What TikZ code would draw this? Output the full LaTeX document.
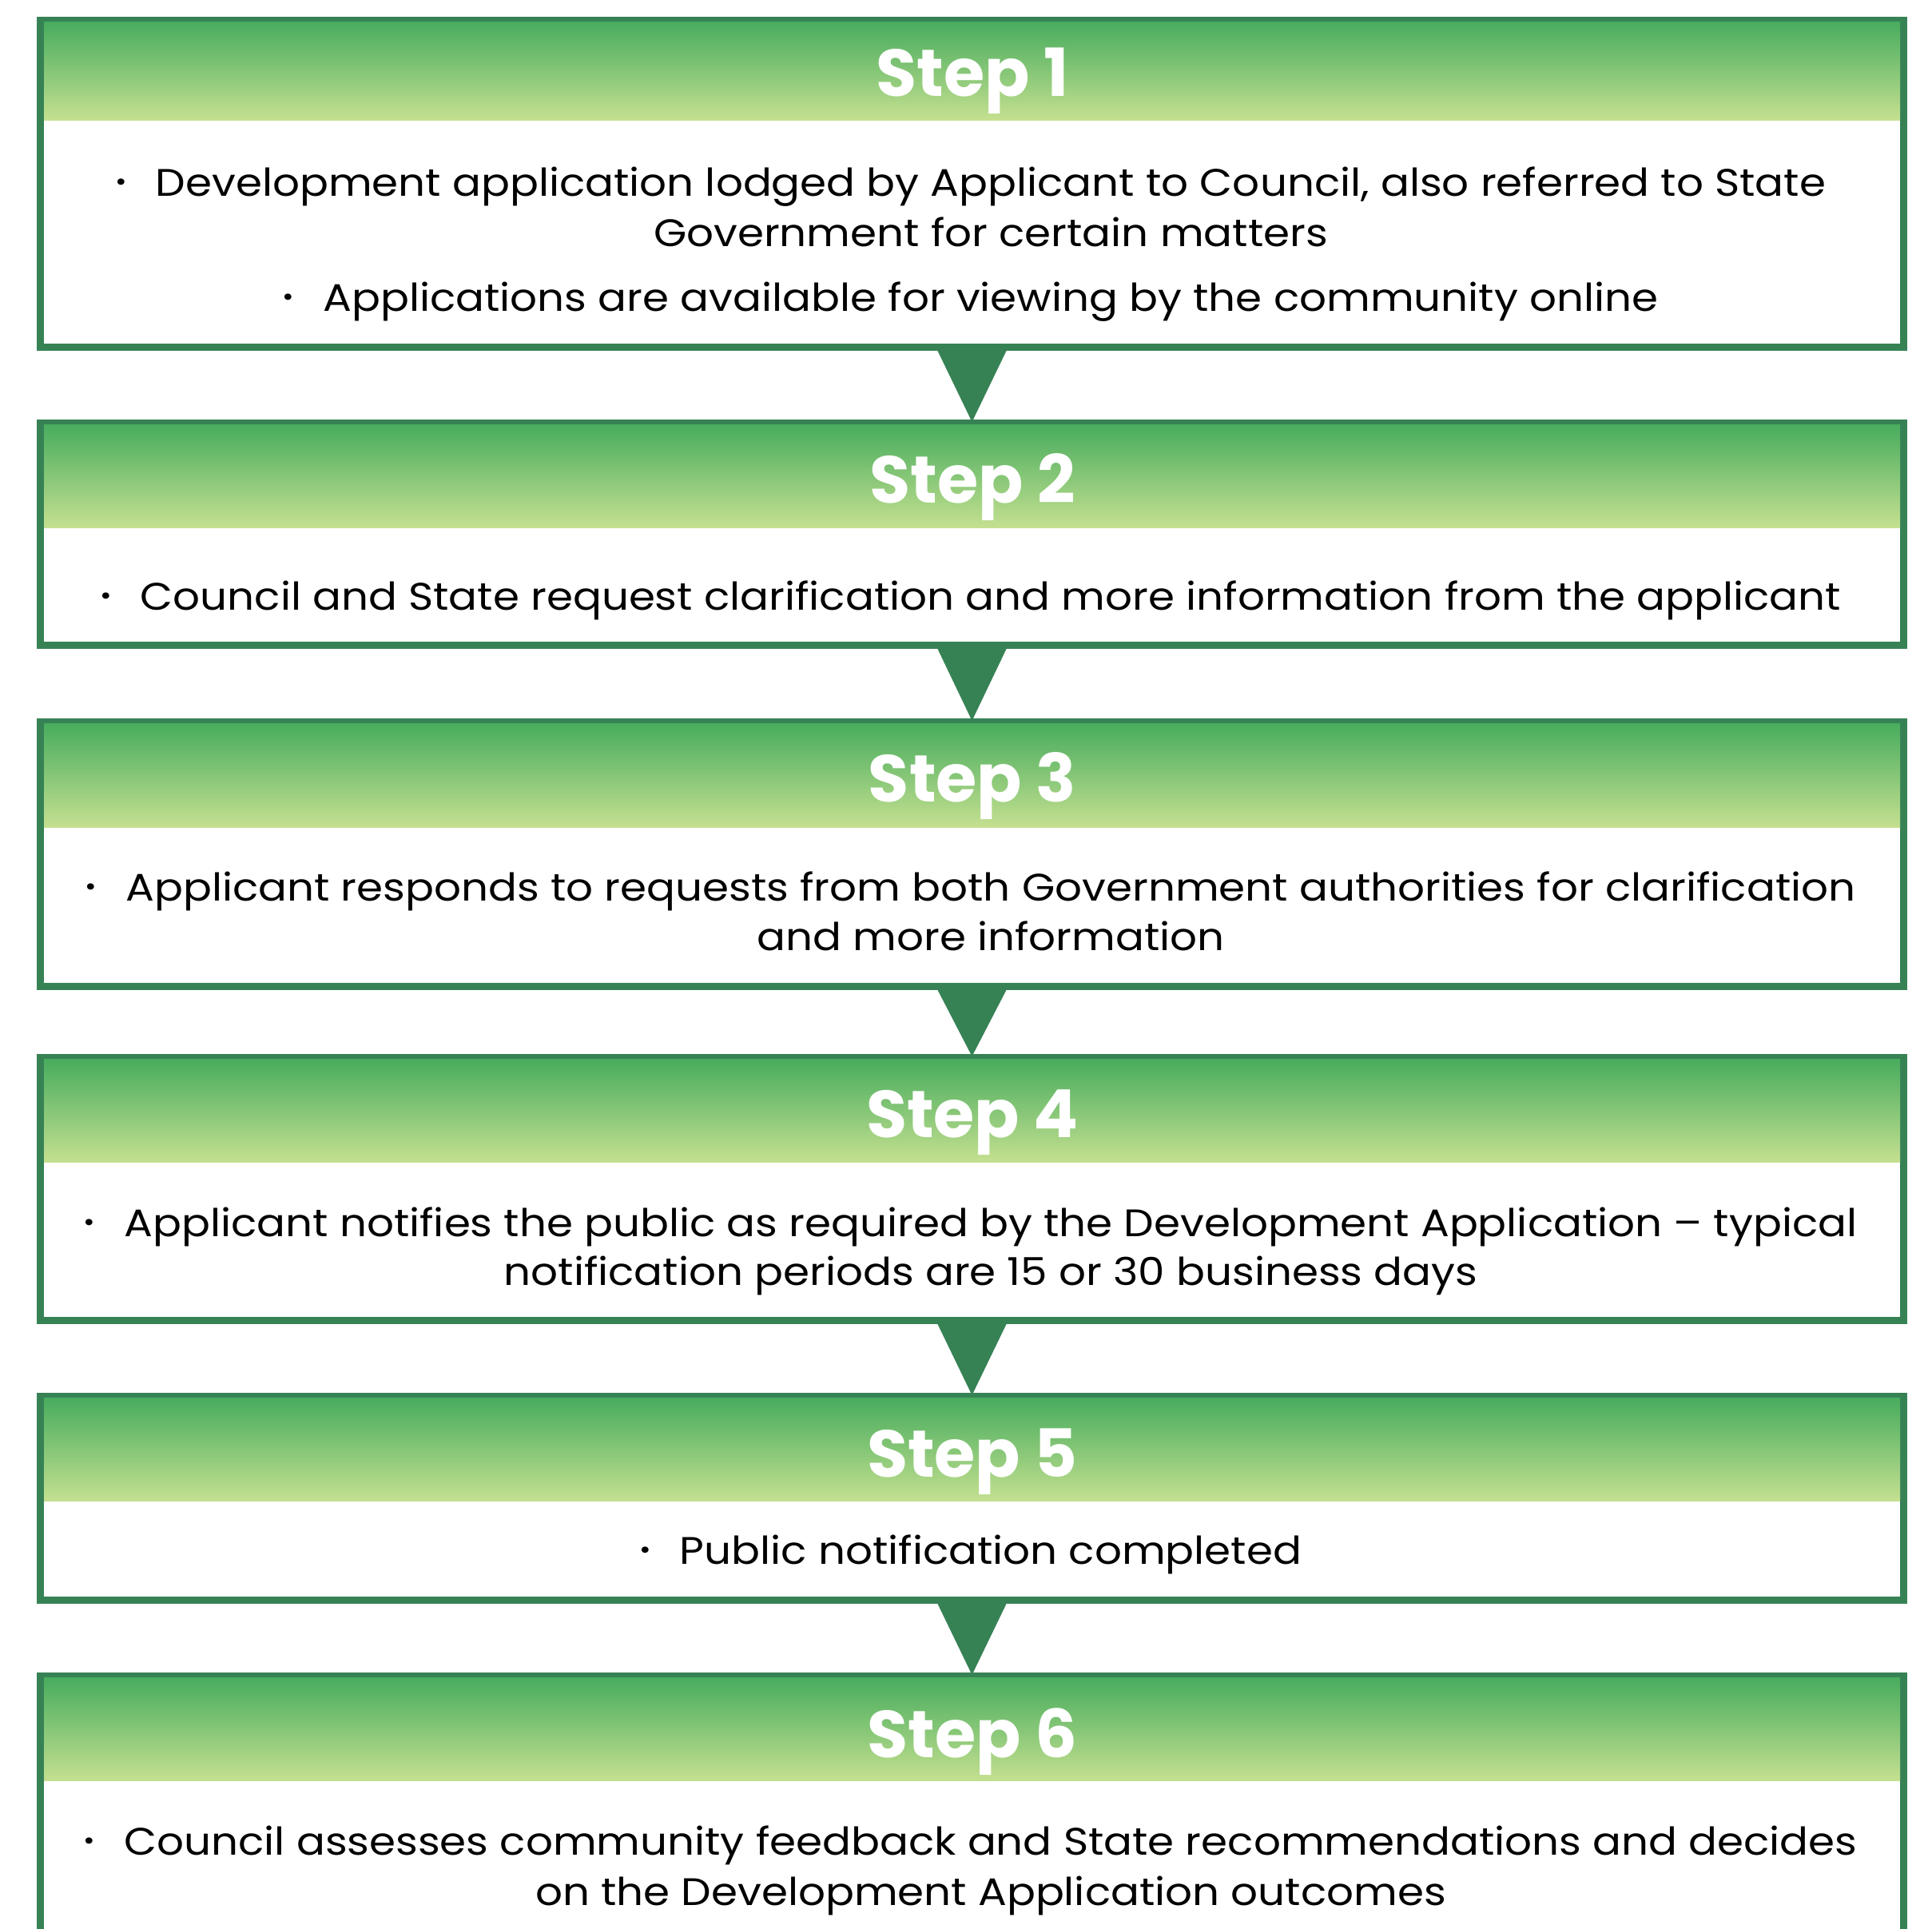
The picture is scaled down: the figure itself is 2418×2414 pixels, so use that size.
\documentclass[tikz,border=0pt]{standalone}
\usepackage{fontspec}
\setmainfont{Poppins}
\newfontfamily\bodyfont[FakeStretch=1.107]{Poppins}
\usetikzlibrary{calc}
\definecolor{bordergreen}{RGB}{55,130,85}
\definecolor{hdtop}{RGB}{72,172,94}
\definecolor{hdbot}{RGB}{196,224,144}
\newcommand{\bul}{\llap{\raisebox{7pt}{\fontsize{32}{32}\selectfont •}\hspace{36pt}}}
\tikzset{
  stepbox/.style={draw=bordergreen, line width=6pt, fill=white, minimum width=2329pt, inner sep=0pt, anchor=north},
  stephead/.style={top color=hdtop, bottom color=hdbot, draw=none, minimum width=2323pt, inner sep=0pt, anchor=north},
  steptitle/.style={anchor=base, text=white, inner sep=0pt, font=\fontsize{83}{83}\bfseries\selectfont},
  steptext/.style={anchor=base, text=black, inner sep=0pt, font=\bodyfont\fontsize{48}{63}\selectfont},
  flowtri/.style={fill=bordergreen}
}
\begin{document}
\begin{tikzpicture}[x=1pt,y=-1pt]
\useasboundingbox (0,0) rectangle (2418,2414);
\fill[white] (0,0) rectangle (2418,2414);
% boxes
\node[stepbox, minimum height=406pt] (b1) at (1216.5,24) {};
\node[stepbox, minimum height=275pt] (b2) at (1216.5,528) {};
\node[stepbox, minimum height=328pt] (b3) at (1216.5,902) {};
\node[stepbox, minimum height=326pt] (b4) at (1216.5,1322) {};
\node[stepbox, minimum height=252pt] (b5) at (1216.5,1746) {};
\node[stepbox, minimum height=340pt] (b6) at (1216.5,2096) {};
% headers
\node[stephead, minimum height=123pt] (h1) at (1216.5,27) {};
\node[stephead, minimum height=129pt] (h2) at (1216.5,531) {};
\node[stephead, minimum height=130pt] (h3) at (1216.5,905) {};
\node[stephead, minimum height=129pt] (h4) at (1216.5,1325) {};
\node[stephead, minimum height=129pt] (h5) at (1216.5,1749) {};
\node[stephead, minimum height=129pt] (h6) at (1216.5,2099) {};
% redraw borders on top
\foreach \b in {b1,b2,b3,b4,b5,b6}{
  \draw[bordergreen, line width=6pt] (\b.north west) rectangle (\b.south east);
}
% titles
\node[steptitle] (t1) at (1217,121) {Step 1};
\node[steptitle] (t2) at (1217,629) {Step 2};
\node[steptitle] (t3) at (1217,1003) {Step 3};
\node[steptitle] (t4) at (1217,1423) {Step 4};
\node[steptitle] (t5) at (1217,1848) {Step 5};
\node[steptitle] (t6) at (1217,2199) {Step 6};
% texts
\node[steptext] (x1a) at (1240,245) {\bul Development application lodged by Applicant to Council, also referred to State};
\node[steptext] (x1b) at (1240,308) {Government for certain matters};
\node[steptext] (x1c) at (1240,389) {\bul Applications are available for viewing by the community online};
\node[steptext] (x2a) at (1240,763) {\bul Council and State request clarification and more information from the applicant};
\node[steptext] (x3a) at (1240,1127) {\bul Applicant responds to requests from both Government authorities for clarification};
\node[steptext] (x3b) at (1240,1189) {and more information};
\node[steptext] (x4a) at (1240,1547) {\bul Applicant notifies the public as required by the Development Application – typical};
\node[steptext] (x4b) at (1240,1608) {notification periods are 15 or 30 business days};
\node[steptext] (x5a) at (1240,1957) {\bul Public notification completed};
\node[steptext] (x6a) at (1240,2321) {\bul Council assesses community feedback and State recommendations and decides};
\node[steptext] (x6b) at (1240,2384) {on the Development Application outcomes};
% connectors
\foreach \a/\c in {b1/b2,b2/b3,b3/b4,b4/b5,b5/b6}{
  \fill[flowtri] ($(\a.south)+(-44.5,0)$) -- ($(\a.south)+(44.5,0)$) -- (\c.north) -- cycle;
}
\end{tikzpicture}
\end{document}
